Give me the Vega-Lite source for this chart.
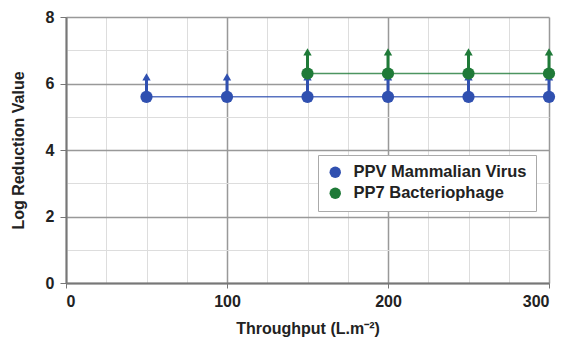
{
  "$schema": "https://vega.github.io/schema/vega-lite/v6.json",
  "width": 483,
  "height": 266,
  "autosize": {"type": "none"},
  "padding": {"left": 66, "top": 17, "right": 25, "bottom": 67},
  "background": "white",
  "config": {
    "view": {"stroke": null},
    "font": "Liberation Sans"
  },
  "data": {
    "values": [
      {"throughput": 50, "series": "PPV Mammalian Virus", "lrv": 5.6, "tip": 6.2},
      {"throughput": 100, "series": "PPV Mammalian Virus", "lrv": 5.6, "tip": 6.2},
      {"throughput": 150, "series": "PPV Mammalian Virus", "lrv": 5.6, "tip": 6.2},
      {"throughput": 200, "series": "PPV Mammalian Virus", "lrv": 5.6, "tip": 6.2},
      {"throughput": 250, "series": "PPV Mammalian Virus", "lrv": 5.6, "tip": 6.2},
      {"throughput": 300, "series": "PPV Mammalian Virus", "lrv": 5.6, "tip": 6.2},
      {"throughput": 150, "series": "PP7 Bacteriophage", "lrv": 6.3, "tip": 6.95},
      {"throughput": 200, "series": "PP7 Bacteriophage", "lrv": 6.3, "tip": 6.95},
      {"throughput": 250, "series": "PP7 Bacteriophage", "lrv": 6.3, "tip": 6.95},
      {"throughput": 300, "series": "PP7 Bacteriophage", "lrv": 6.3, "tip": 6.95}
    ]
  },
  "encoding": {
    "x": {
      "field": "throughput",
      "type": "quantitative",
      "scale": {"domain": [0, 300], "nice": false},
      "axis": {
        "title": "Throughput (L.m⁻²)",
        "values": [0, 25, 50, 75, 100, 125, 150, 175, 200, 225, 250, 275, 300],
        "format": "d",
        "labelExpr": "datum.value % 100 === 0 ? datum.label : ''",
        "labelFont": "Liberation Sans",
        "labelFontWeight": "bold",
        "labelFontSize": 16,
        "labelColor": "#222",
        "labelPadding": 5,
        "titleFont": "Liberation Sans",
        "titleFontWeight": "bold",
        "titleFontSize": 16,
        "titleColor": "#222",
        "titlePadding": 11,
        "domainColor": "#777",
        "domainWidth": 2,
        "tickColor": "#777",
        "tickSize": 5,
        "tickOpacity": {"condition": {"test": "datum.value % 100 === 0", "value": 1}, "value": 0},
        "grid": true,
        "gridColor": {"condition": {"test": "datum.value % 100 === 0", "value": "#999"}, "value": "#dddddd"},
        "gridWidth": {"condition": {"test": "datum.value % 100 === 0", "value": 1.5}, "value": 1}
      }
    },
    "y": {
      "field": "lrv",
      "type": "quantitative",
      "scale": {"domain": [0, 8], "nice": false},
      "axis": {
        "title": "Log Reduction Value",
        "values": [0, 0.5, 1, 1.5, 2, 2.5, 3, 3.5, 4, 4.5, 5, 5.5, 6, 6.5, 7, 7.5, 8],
        "format": "d",
        "labelExpr": "datum.value % 2 === 0 ? datum.label : ''",
        "labelFont": "Liberation Sans",
        "labelFontWeight": "bold",
        "labelFontSize": 16,
        "labelColor": "#222",
        "labelPadding": 6,
        "titleFont": "Liberation Sans",
        "titleFontWeight": "bold",
        "titleFontSize": 16,
        "titleColor": "#222",
        "titlePadding": 19,
        "domainColor": "#777",
        "domainWidth": 2,
        "tickColor": "#777",
        "tickSize": 6,
        "tickOpacity": {"condition": {"test": "datum.value % 2 === 0", "value": 1}, "value": 0},
        "grid": true,
        "gridColor": {"condition": {"test": "datum.value % 2 === 0", "value": "#999"}, "value": "#dddddd"},
        "gridWidth": {"condition": {"test": "datum.value % 2 === 0", "value": 1.5}, "value": 1}
      }
    },
    "color": {
      "field": "series",
      "type": "nominal",
      "scale": {
        "domain": ["PPV Mammalian Virus", "PP7 Bacteriophage"],
        "range": ["#3050b0", "#1f7a38"]
      },
      "legend": {
        "title": null,
        "orient": "none",
        "legendX": 252,
        "legendY": 138,
        "direction": "vertical",
        "fillColor": "white",
        "strokeColor": "#aaa",
        "padding": 9,
        "labelFont": "Liberation Sans",
        "labelFontWeight": "bold",
        "labelFontSize": 16.5,
        "labelLimit": 300,
        "labelColor": "#222",
        "symbolType": "circle",
        "symbolSize": 130,
        "symbolOpacity": 1,
        "symbolStrokeWidth": 0,
        "rowPadding": 4,
        "labelOffset": 10
      }
    }
  },
  "layer": [
    {
      "mark": {"type": "line", "strokeWidth": 1.5, "opacity": 0.8}
    },
    {
      "mark": {"type": "rule", "strokeWidth": 3},
      "encoding": {"y2": {"field": "tip"}}
    },
    {
      "mark": {"type": "point", "shape": "triangle-up", "filled": true, "size": 70, "opacity": 1},
      "encoding": {"y": {"field": "tip", "type": "quantitative"}}
    },
    {
      "mark": {"type": "circle", "size": 150, "opacity": 1}
    }
  ]
}
